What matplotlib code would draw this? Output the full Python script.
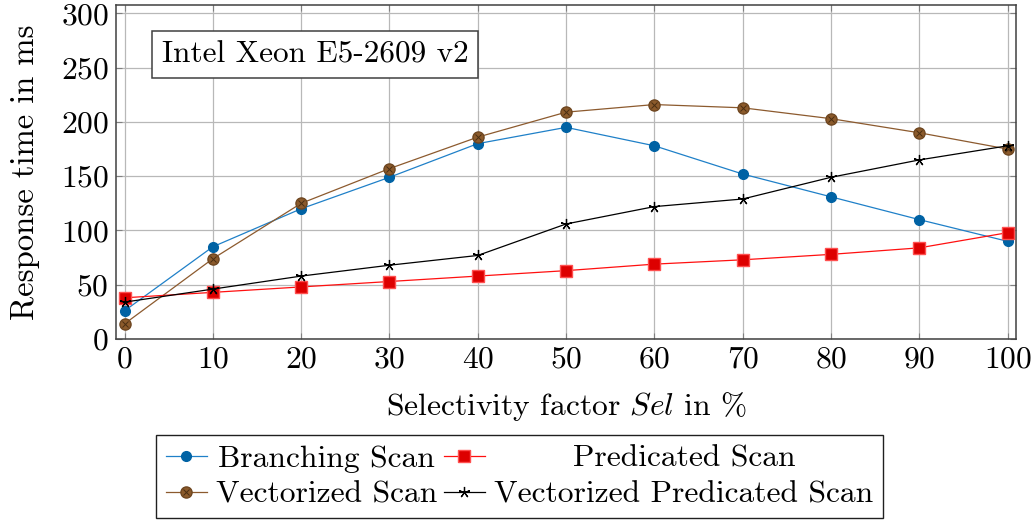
import matplotlib
matplotlib.use("Agg")
import matplotlib.pyplot as plt

plt.rcParams["font.family"] = "cmr10"
plt.rcParams["mathtext.fontset"] = "cm"
plt.rcParams["axes.formatter.use_mathtext"] = True

sel = [0, 10, 20, 30, 40, 50, 60, 70, 80, 90, 100]
branching = [26, 85, 120, 149, 180, 195, 178, 152, 131, 110, 90]
vectorized = [14, 74, 125, 157, 186, 209, 216, 213, 203, 190, 175]
predicated = [38, 43, 48, 53, 58, 63, 69, 73, 78, 84, 98]
vec_predicated = [34, 46, 58, 68, 77, 106, 122, 129, 149, 165, 178]

x_ticks = [0, 10, 20, 30, 40, 50, 60, 70, 80, 90, 100]
y_ticks = [0, 50, 100, 150, 200, 250, 300]

fs = 22.7

fig = plt.figure(figsize=(10.33, 5.2), dpi=100)
ax = fig.add_axes([0.112, 0.348, 0.872, 0.643])

l_br, = ax.plot(sel, branching, color="#1f80c8", lw=0.9, marker="o", ms=7,
                mfc="#0062a4", mec="#0062a4", zorder=3)
l_ve, = ax.plot(sel, vectorized, color="#8c5a2e", lw=0.9, marker="o", ms=8,
                mfc="#8b5a2b", mec="#6e4620", zorder=3)
l_vx, = ax.plot(sel, vectorized, ls="none", marker="x", ms=5, mew=0.7,
                mec="#4a2e12", zorder=4)
l_pr, = ax.plot(sel, predicated, color="#ff1010", lw=0.9, marker="s", ms=8,
                mfc="#dd0000", mec="#ff5050", zorder=3)
l_vp, = ax.plot(sel, vec_predicated, color="black", lw=0.9, marker=(5, 2, 0),
                ms=8, mec="black", mew=0.9, zorder=3)

ax.set_xlim(-1, 101)
ax.set_ylim(0, 308)
ax.set_xticks(x_ticks)
ax.set_yticks(y_ticks)
ax.tick_params(direction="in", length=4, width=0.8, color="#808080",
               top=True, right=True, labelsize=fs, pad=5)
ax.grid(True, color="#b8b8b8", lw=0.9)
ax.set_axisbelow(True)
for s in ax.spines.values():
    s.set_color("#404040")
    s.set_linewidth(1.1)

ax.set_xlabel(r"Selectivity factor $Sel$ in %", fontsize=fs, labelpad=12)
ax.set_ylabel("Response time in ms", fontsize=23.5, labelpad=15)

ax.text(0.051, 0.850, "Intel Xeon E5-2609 v2", transform=ax.transAxes,
        fontsize=22.5, ha="left", va="center",
        bbox=dict(boxstyle="square,pad=0.3", fc="white", ec="#404040", lw=1.1))

leg = fig.legend(
    handles=[l_br, (l_ve, l_vx), l_pr, l_vp],
    labels=["Branching Scan", "Vectorized Scan", "Predicated Scan",
            "Vectorized Predicated Scan"],
    ncol=2, loc="upper center", bbox_to_anchor=(0.503, 0.163),
    borderaxespad=0, fontsize=fs, frameon=True, fancybox=False, framealpha=1,
    edgecolor="#202020", handlelength=1.3, handletextpad=0.3,
    columnspacing=0.2, borderpad=0.3, labelspacing=0.25,
)
leg.get_frame().set_linewidth(1.0)

# centre each label inside its legend column
fig.canvas.draw()
renderer = fig.canvas.get_renderer()
texts = leg.get_texts()
for col in (texts[0:2], texts[2:4]):
    widths = [t.get_window_extent(renderer).width for t in col]
    w = max(widths)
    for t, wi in zip(col, widths):
        t.set_x((w - wi) / 2)

fig.savefig("out.png", dpi=100)
